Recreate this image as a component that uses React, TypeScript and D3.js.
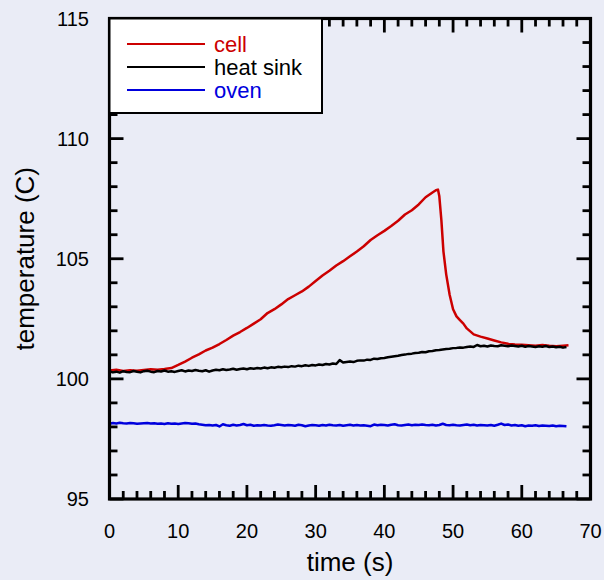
import React from "react";
import * as d3 from "d3";

// ---- data ----
const seriesNames = ["cell", "heat sink", "oven"];
const seriesColors = ["#cc0000", "#000000", "#0000dd"];

const xTickLabels = [0, 10, 20, 30, 40, 50, 60, 70];
const yTickLabels = [95, 100, 105, 110, 115];

// cell temperature (irregular sampling around the fast drop)
const cellTimes = [
  0, 1, 2, 3, 4, 5, 6, 7, 8, 9, 10, 11, 12, 13, 14, 15, 16, 17, 18, 19, 20, 21, 22, 23, 24,
  25, 26, 27, 28, 29, 30, 31, 32, 33, 34, 35, 36, 37, 38, 39, 40, 41, 42, 43, 44, 45, 46, 47,
  47.5, 47.8, 48.0, 48.3, 48.6, 49.0, 49.5, 50.0, 50.5, 51.0, 51.5, 52.0, 53, 54, 55, 56, 57,
  58, 59, 60, 61, 62, 63, 64, 65, 66, 66.8,
];
const cellTemps = [
  100.35, 100.38, 100.33, 100.36, 100.34, 100.37, 100.40, 100.38, 100.41, 100.45, 100.58,
  100.72, 100.88, 101.02, 101.18, 101.30, 101.45, 101.62, 101.80, 101.95, 102.12, 102.30,
  102.48, 102.74, 102.90, 103.10, 103.32, 103.48, 103.64, 103.84, 104.07, 104.30, 104.50,
  104.72, 104.90, 105.10, 105.30, 105.52, 105.78, 105.98, 106.16, 106.36, 106.58, 106.84,
  107.02, 107.26, 107.56, 107.76, 107.85, 107.88, 107.6, 106.6, 105.3, 104.35, 103.5, 102.9,
  102.6, 102.45, 102.3, 102.1, 101.85, 101.76, 101.68, 101.60, 101.52, 101.46, 101.43, 101.42,
  101.40, 101.38, 101.41, 101.38, 101.36, 101.38, 101.40,
];

// heat sink and oven, sampled every 0.5 s from 0 to 66.5 s
const sampleTimes = d3.range(0, 67, 0.5);
const sinkTemps = [
  100.31, 100.27, 100.30, 100.26, 100.32, 100.29, 100.28, 100.33, 100.30, 100.27,
  100.32, 100.34, 100.30, 100.28, 100.33, 100.31, 100.35, 100.30, 100.32, 100.29,
  100.33, 100.36, 100.31, 100.35, 100.33, 100.37, 100.34, 100.32, 100.36, 100.30,
  100.35, 100.38, 100.36, 100.40, 100.37, 100.39, 100.42, 100.38, 100.41, 100.43,
  100.40, 100.44, 100.42, 100.45, 100.43, 100.47, 100.44, 100.48, 100.46, 100.50,
  100.48, 100.51, 100.49, 100.53, 100.51, 100.55, 100.53, 100.57, 100.54, 100.58,
  100.56, 100.60, 100.58, 100.62, 100.60, 100.64, 100.62, 100.78, 100.68, 100.70,
  100.72, 100.70, 100.75, 100.77, 100.76, 100.80, 100.79, 100.84, 100.83, 100.86,
  100.87, 100.90, 100.92, 100.94, 100.96, 100.99, 101.01, 101.04, 101.05, 101.08,
  101.09, 101.12, 101.11, 101.15, 101.16, 101.19, 101.20, 101.22, 101.24, 101.25,
  101.28, 101.29, 101.31, 101.30, 101.33, 101.35, 101.33, 101.41, 101.36, 101.38,
  101.35, 101.39, 101.37, 101.36, 101.40, 101.38, 101.36, 101.39, 101.37, 101.35,
  101.38, 101.34, 101.37, 101.35, 101.33, 101.36, 101.34, 101.37, 101.33, 101.35,
  101.32, 101.34, 101.30, 101.33,
];
const ovenTemps = [
  98.13, 98.16, 98.14, 98.17, 98.15, 98.14, 98.16, 98.15, 98.13, 98.14,
  98.15, 98.16, 98.14, 98.15, 98.13, 98.14, 98.12, 98.15, 98.13, 98.14,
  98.12, 98.14, 98.16, 98.15, 98.13, 98.14, 98.11, 98.09, 98.07, 98.08,
  98.06, 98.08, 98.02, 98.11, 98.07, 98.05, 98.09, 98.06, 98.08, 98.12,
  98.07, 98.09, 98.05, 98.07, 98.06, 98.08, 98.06, 98.05, 98.07, 98.10,
  98.08, 98.06, 98.08, 98.07, 98.05, 98.09, 98.07, 98.03, 98.06, 98.08,
  98.07, 98.05, 98.08, 98.06, 98.09, 98.07, 98.06, 98.08, 98.05, 98.07,
  98.09, 98.06, 98.08, 98.06, 98.07, 98.05, 98.03, 98.10, 98.07, 98.09,
  98.08, 98.06, 98.09, 98.11, 98.07, 98.06, 98.08, 98.10, 98.07, 98.09,
  98.08, 98.10, 98.08, 98.07, 98.09, 98.06, 98.08, 98.13, 98.08, 98.07,
  98.09, 98.07, 98.06, 98.08, 98.10, 98.07, 98.09, 98.06, 98.08, 98.07,
  98.06, 98.08, 98.05, 98.09, 98.14, 98.08, 98.10, 98.06, 98.08, 98.05,
  98.07, 98.03, 98.06, 98.05, 98.07, 98.04, 98.06, 98.05, 98.04, 98.06,
  98.03, 98.05, 98.04, 98.03,
];

// ---- layout ----
const W = 604;
const H = 580;
const BG = "#eaecf6";
const left = 109.5;
const right = 590.5;
const top = 18.5;
const bottom = 499;

export default function App() {
  const x = d3.scaleLinear().domain([0, 70]).range([left, right]);
  const y = d3.scaleLinear().domain([95, 115]).range([bottom, top]);
  const line = d3
    .line<[number, number]>()
    .x((d) => x(d[0]))
    .y((d) => y(d[1]));

  const series: [number, number][][] = [
    cellTimes.map((t, i) => [t, cellTemps[i]]),
    sampleTimes.map((t, i) => [t, sinkTemps[i]]),
    sampleTimes.map((t, i) => [t, ovenTemps[i]]),
  ];

  const xMinor = d3.range(0, 70.001, 2);
  const yMinor = d3.range(95, 115.001, 1);
  const major = 14;
  const minor = 8;
  const font = "Liberation Sans, Arial, Helvetica, sans-serif";

  return (
    <div style={{ position: "absolute", left: 0, top: 0 }}>
      <svg width={W} height={H} style={{ display: "block" }}>
        <rect x={0} y={0} width={W} height={H} fill={BG} />
        {/* data */}
        {series.map((s, i) => (
          <path
            key={i}
            d={line(s) || ""}
            fill="none"
            stroke={seriesColors[i]}
            strokeWidth={2.5}
            strokeLinejoin="round"
          />
        ))}
        {/* ticks */}
        <g stroke="#000" strokeWidth={2.8}>
          {xMinor.map((v) => {
            const len = v % 10 === 0 ? major : minor;
            return (
              <g key={"x" + v}>
                <line x1={x(v)} x2={x(v)} y1={bottom} y2={bottom - len} />
                <line x1={x(v)} x2={x(v)} y1={top} y2={top + len} />
              </g>
            );
          })}
          {yMinor.map((v) => {
            const len = v % 5 === 0 ? major : minor;
            return (
              <g key={"y" + v}>
                <line x1={left} x2={left + len} y1={y(v)} y2={y(v)} />
                <line x1={right} x2={right - len} y1={y(v)} y2={y(v)} />
              </g>
            );
          })}
        </g>
        {/* frame */}
        <rect
          x={left}
          y={top}
          width={right - left}
          height={bottom - top}
          fill="none"
          stroke="#000"
          strokeWidth={3.2}
        />
        {/* tick labels */}
        <g fontFamily={font} fontSize={20} fill="#000">
          {xTickLabels.map((v) => (
            <text key={"xl" + v} x={x(v)} y={538} textAnchor="middle">
              {v}
            </text>
          ))}
          {yTickLabels.map((v) => (
            <text key={"yl" + v} x={89} y={y(v) + 7} textAnchor="end">
              {v}
            </text>
          ))}
        </g>
        {/* axis titles */}
        <text
          x={350}
          y={571}
          textAnchor="middle"
          fontFamily={font}
          fontSize={26}
          fill="#000"
        >
          time (s)
        </text>
        <text
          transform={`translate(34,${(top + bottom) / 2}) rotate(-90)`}
          textAnchor="middle"
          fontFamily={font}
          fontSize={26}
          fill="#000"
        >
          temperature (C)
        </text>
        {/* legend */}
        <rect
          x={left}
          y={top}
          width={322 - left}
          height={113 - top}
          fill="#ffffff"
          stroke="#000"
          strokeWidth={2}
        />
        {seriesNames.map((name, i) => {
          const ly = 44 + i * 23;
          return (
            <g key={name}>
              <line x1={127} x2={205} y1={ly} y2={ly} stroke={seriesColors[i]} strokeWidth={2} />
              <text
                x={214}
                y={ly + 8}
                fontFamily={font}
                fontSize={22}
                fill={seriesColors[i]}
              >
                {name}
              </text>
            </g>
          );
        })}
      </svg>
    </div>
  );
}
